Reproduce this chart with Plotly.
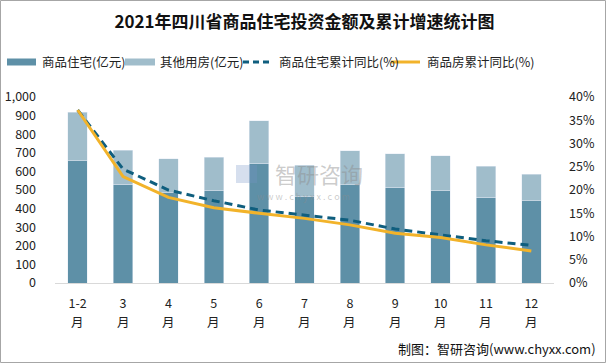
import plotly.graph_objects as go

months = ["1-2", "3", "4", "5", "6", "7", "8", "9", "10", "11", "12"]
month_suffix = "月"
residential = [658, 532, 486, 495, 645, 464, 527, 516, 495, 462, 441]
other = [261, 183, 181, 182, 226, 170, 183, 178, 188, 167, 145]
res_growth = [37.2, 24.5, 20.0, 17.7, 15.7, 14.6, 13.5, 11.6, 10.3, 9.1, 8.1]
all_growth = [37.2, 22.9, 18.4, 16.2, 15.0, 13.9, 12.5, 10.7, 9.8, 8.2, 6.9]
series_names = ["商品住宅(亿元)", "其他用房(亿元)", "商品住宅累计同比(%)", "商品房累计同比(%)"]
colors = ["#5E90A7", "#A0BDCB", "#0F5E7E", "#F2B32A"]

FONT = "Noto Sans CJK SC"
L, R, T, B = 55, 52, 97, 80
W, H = 606, 363
PW, PH = W - L - R, H - T - B


def px_x(px):
    return (px - L) / PW


def px_y(py):
    return (H - B - py) / PH


fig = go.Figure()
fig.add_trace(go.Bar(x=months, y=residential, name=series_names[0],
                     marker_color=colors[0], width=0.43))
fig.add_trace(go.Bar(x=months, y=other, name=series_names[1],
                     marker_color=colors[1], width=0.43))
fig.add_trace(go.Scatter(x=months, y=res_growth, name=series_names[2],
                         yaxis="y2", mode="lines",
                         line=dict(color=colors[2], width=3, dash="8px,5px")))
fig.add_trace(go.Scatter(x=months, y=all_growth, name=series_names[3],
                         yaxis="y2", mode="lines",
                         line=dict(color=colors[3], width=3)))

fig.update_layout(
    width=W, height=H,
    barmode="stack",
    showlegend=False,
    paper_bgcolor="white", plot_bgcolor="white",
    margin=dict(l=L, r=R, t=T, b=B, autoexpand=False),
    font=dict(family=FONT, size=12, color="#222"),
    title=dict(text="<b>2021年四川省商品住宅投资金额及累计增速统计图</b>",
               x=0.5, xanchor="center", y=1 - 22 / H, yanchor="middle",
               xref="paper", yref="container",
               font=dict(family=FONT, size=17, color="#111")),
    xaxis=dict(type="category", showgrid=False, showline=True, linecolor="#D9D9D9",
               linewidth=1, ticks="", ticklabelstandoff=9,
               tickfont=dict(size=12.5, color="#222")),
    yaxis=dict(range=[0, 1000], dtick=100, showgrid=False, zeroline=False,
               tickformat=",d", ticks="", ticklabelstandoff=18,
               tickfont=dict(size=12.5, color="#222")),
    yaxis2=dict(range=[0, 40], dtick=5, overlaying="y", side="right",
                showgrid=False, zeroline=False, ticksuffix="%", ticks="",
                ticklabelstandoff=14, tickfont=dict(size=12.5, color="#222")),
)

# second line of x labels ("月"), placed at each category's index
for i, _m in enumerate(months):
    fig.add_annotation(text=month_suffix, xref="x", yref="paper", x=i, y=px_y(321),
                       yanchor="middle", showarrow=False,
                       font=dict(size=12.5, color="#222"))

# manual legend
leg_y = px_y(62)
items = [(7, 36, 40, "solid", 7), (125, 155, 158, "solid", 7),
         (243, 270, 277, "dash", 3), (391, 420, 425, "solid", 3)]
for (x0, x1, tx, dash, lw), name, col in zip(items, series_names, colors):
    fig.add_shape(type="line", xref="paper", yref="paper",
                  x0=px_x(x0), x1=px_x(x1), y0=leg_y, y1=leg_y,
                  line=dict(color=col, width=lw, dash="6px,4px" if dash == "dash" else "solid"))
    fig.add_annotation(text=name, xref="paper", yref="paper", x=px_x(tx), y=leg_y,
                       xanchor="left", yanchor="middle", showarrow=False,
                       font=dict(size=12.5, color="#222"))

# watermark
fig.add_annotation(text="智研咨询", xref="paper", yref="paper", x=px_x(319), y=px_y(173),
                   showarrow=False, font=dict(size=22, color="rgba(140,140,140,0.45)"))
fig.add_annotation(text="w w w . c h y x x . c o m", xref="paper", yref="paper",
                   x=px_x(303), y=px_y(196), showarrow=False,
                   font=dict(size=9, color="rgba(140,140,140,0.45)"))
fig.add_shape(type="rect", xref="paper", yref="paper",
              x0=px_x(236), x1=px_x(257), y0=px_y(183), y1=px_y(165),
              line=dict(width=0), fillcolor="rgba(120,150,200,0.3)")

# source
fig.add_annotation(text="制图：智研咨询(www.chyxx.com)", xref="paper", yref="paper",
                   x=px_x(598), xanchor="right", y=px_y(348), yanchor="middle",
                   showarrow=False, font=dict(size=13, color="#111"))

# border
fig.add_shape(type="rect", xref="paper", yref="paper",
              x0=px_x(0.5), x1=px_x(605.5), y0=px_y(362.5), y1=px_y(0.5),
              line=dict(color="#A6A6A6", width=1))

fig.write_html("out.html", config={"displayModeBar": False},
               post_script="document.body.style.margin='0';document.body.style.overflow='hidden';")
